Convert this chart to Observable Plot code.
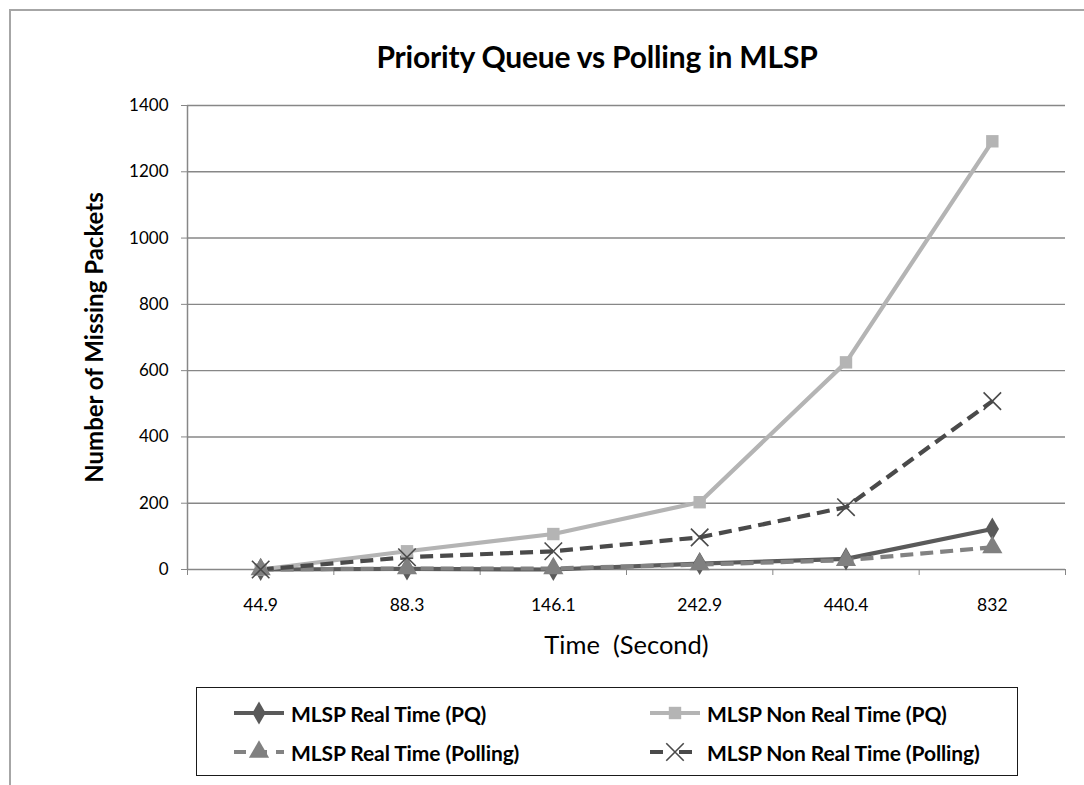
<!DOCTYPE html>
<html><head><meta charset="utf-8">
<script src="https://cdn.jsdelivr.net/npm/d3@7"></script>
<script src="https://cdn.jsdelivr.net/npm/@observablehq/plot@0.6"></script>
<style>
body{margin:0;background:#fff;width:1084px;height:785px;overflow:hidden;position:relative;font-family:Lato,"Noto Sans",sans-serif;color:#000;}
#frame{position:absolute;left:9px;top:9px;width:1100px;height:800px;border-left:2px solid #a6a6a6;border-top:2px solid #a6a6a6;}
#title{position:absolute;left:0;width:1194px;top:38px;text-align:center;font-weight:bold;font-size:30px;letter-spacing:-0.2px;white-space:nowrap;}
#chart{position:absolute;left:0;top:90px;}
#legend{position:absolute;left:196px;top:687px;width:822px;height:89px;border:1.5px solid #1a1a1a;box-sizing:border-box;}
.item{position:absolute;display:flex;align-items:center;font-weight:bold;font-size:21px;white-space:nowrap;letter-spacing:-0.1px;}
.item svg{margin-right:6px;}
</style></head>
<body>
<div id="frame"></div>
<div id="title">Priority Queue vs Polling in MLSP</div>
<div id="chart"></div>
<div id="legend"></div>
<script>
const categories = ["44.9","88.3","146.1","242.9","440.4","832"];
const seriesNames = ["MLSP Real Time (PQ)","MLSP Non Real Time (PQ)","MLSP Real Time (Polling)","MLSP Non Real Time (Polling)"];
const rtPQ       = [0, 2, 0, 18, 32, 122];
const nrtPQ      = [0, 55, 107, 203, 625, 1292];
const rtPolling  = [0, 3, 3, 15, 28, 67];
const nrtPolling = [0, 37, 55, 97, 188, 508];
const yTicks = [0,200,400,600,800,1000,1200,1400];
const xTitle = "Time  (Second)";
const yTitle = "Number of Missing Packets";

const styles = [
  {stroke:"#5a5a5a", dash:null, symbol:"diamond", fill:"#5a5a5a", r:7},
  {stroke:"#b4b4b4", dash:null, symbol:"square", fill:"#b4b4b4", r:7},
  {stroke:"#828282", dash:"13,7", symbol:"triangle", fill:"#808080", r:7.5},
  {stroke:"#4a4a4a", dash:"13,7", symbol:"times", fill:"none", r:8}
];
const values = [rtPQ, nrtPQ, rtPolling, nrtPolling];
const series = seriesNames.map((name,k)=>({name, values:values[k], ...styles[k]}));

const marks = [
  Plot.gridY(yTicks, {stroke:"#878787", strokeOpacity:1, strokeWidth:1.4}),
  Plot.ruleX([0], {y1:0, y2:1400, stroke:"#878787", strokeWidth:1.5}),
  Plot.axisY(yTicks, {tickSize:6, tickPadding:13, stroke:"#878787", label:null, fontSize:17, tickFormat:d=>String(d)}),
  Plot.axisX(d3.range(0,7), {tickSize:6, tickFormat:()=>"", stroke:"#878787", label:null}),
  Plot.axisX(d3.range(6).map(i=>i+0.5), {tickSize:0, tickPadding:29, tickFormat:i=>categories[Math.floor(i)], label:null, fontSize:17.5}),
  Plot.text([xTitle], {frameAnchor:"bottom", dy:84, fontSize:25.5}),
  Plot.text([yTitle], {frameAnchor:"left", dx:-92, dy:0, rotate:-90, textAnchor:"middle", fontSize:24, fontWeight:"bold"})
];
for (const s of series) {
  const data = s.values.map((v,i)=>({x:i+0.5, y:v}));
  marks.push(Plot.line(data, {x:"x", y:"y", stroke:s.stroke, strokeWidth:4.2, strokeDasharray:s.dash, strokeLinecap:"butt", strokeLinejoin:"round"}));
}
for (const s of series) {
  const data = s.values.map((v,i)=>({x:i+0.5, y:v}));
  if (s.symbol==="times")
    marks.push(Plot.dot(data, {x:"x", y:"y", symbol:"times", r:s.r, stroke:s.stroke, strokeWidth:1.6}));
  else
    marks.push(Plot.dot(data, {x:"x", y:"y", symbol:s.symbol, r:s.r, fill:s.fill, stroke:"none"}));
}

const chart = Plot.plot({
  width:1084, height:590,
  marginTop:15, marginLeft:187, marginRight:19, marginBottom:111,
  x:{domain:[0,6], axis:null},
  y:{domain:[0,1400], axis:null},
  style:{fontFamily:"Lato, 'Noto Sans', sans-serif", color:"#000", background:"transparent", overflow:"visible"},
  marks
});
document.getElementById("chart").appendChild(chart);

// legend
const legend = document.getElementById("legend");
const pos = [[36,25],[452,25],[36,64],[452,64]];
series.forEach((s,k)=>{
  const div = document.createElement("div");
  div.className = "item";
  div.style.left = pos[k][0]+"px";
  div.style.top = (pos[k][1]-12)+"px";
  div.style.height = "24px";
  const svg = d3.create("svg").attr("width",52).attr("height",24);
  svg.append("line").attr("x1",1).attr("x2",51).attr("y1",12).attr("y2",12)
    .attr("stroke",s.stroke).attr("stroke-width",4.2)
    .attr("stroke-dasharray", s.dash ? "12,9" : null);
  const sym = {diamond:d3.symbolDiamond, square:d3.symbolSquare, triangle:d3.symbolTriangle, times:d3.symbolTimes}[s.symbol];
  const area = Math.PI*s.r*s.r;
  svg.append("path").attr("transform","translate(26,12)").attr("d", d3.symbol(sym, area)())
    .attr("fill", s.symbol==="times" ? "none" : s.fill)
    .attr("stroke", s.symbol==="times" ? s.stroke : "none").attr("stroke-width",1.6);
  if (s.symbol==="times") svg.select("line").attr("stroke-dasharray","13,16");
  div.appendChild(svg.node());
  const span = document.createElement("span");
  span.textContent = s.name;
  div.appendChild(span);
  legend.appendChild(div);
});
</script>
</body></html>
